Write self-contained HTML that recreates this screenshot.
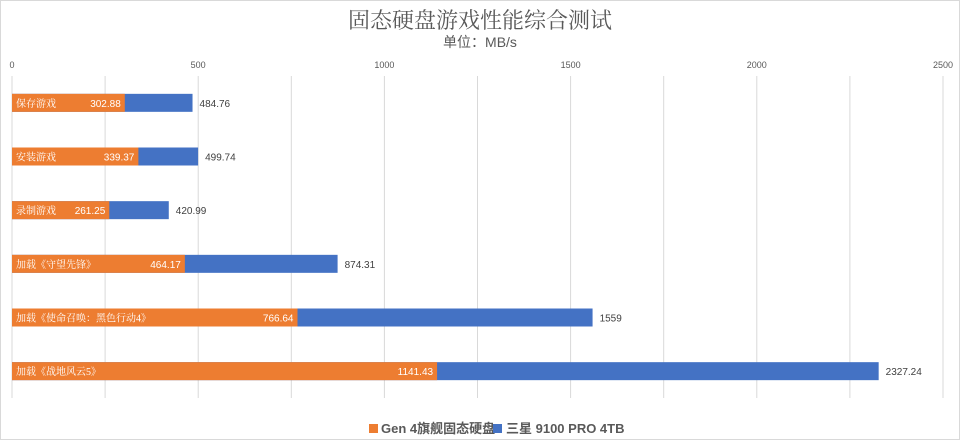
<!DOCTYPE html>
<html><head><meta charset="utf-8"><style>
body{margin:0;background:#fff}
svg{display:block}
</style></head><body>
<svg id="chart" width="960" height="440" xmlns="http://www.w3.org/2000/svg">
<rect x="0.5" y="0.5" width="959" height="439" fill="#fff" stroke="#d9d9d9"/>
<text x="480" y="28" text-anchor="middle" font-family="'Liberation Serif','Noto Serif CJK SC',serif" font-size="22" fill="#595959">固态硬盘游戏性能综合测试</text>
<text x="480" y="47" text-anchor="middle" font-family="'Liberation Sans','Noto Sans CJK SC',sans-serif" font-size="14" fill="#595959">单位：MB/s</text>
<g id="grid"></g><g id="ticks"></g><g id="bars"></g>
<g font-family="'Liberation Sans','Noto Sans CJK SC',sans-serif" font-size="13" font-weight="bold" fill="#595959">
<rect x="369" y="424" width="9" height="9" fill="#ED7D31"/>
<text x="381" y="433">Gen 4旗舰固态硬盘</text>
<rect x="493" y="424" width="9" height="9" fill="#4472C4"/>
<text x="506" y="433">三星 9100 PRO 4TB</text>
</g>
</svg>
<script>
const categories=["保存游戏","安装游戏","录制游戏","加载《守望先锋》","加载《使命召唤：黑色行动4》","加载《战地风云5》"];
const gen4Values=[302.88,339.37,261.25,464.17,766.64,1141.43];
const proValues=[484.76,499.74,420.99,874.31,1559,2327.24];
const proLabels=["484.76","499.74","420.99","874.31","1559","2327.24"];
const tickValues=[0,500,1000,1500,2000,2500];
const gridValues=[0,250,500,750,1000,1250,1500,1750,2000,2250,2500];
const NS="http://www.w3.org/2000/svg";
const x0=12,x1=943,maxV=2500,top0=76,bottom0=398;
function xs(v){return x0+(x1-x0)*v/maxV;}
function ys(i){return top0+(bottom0-top0)*(i+0.5)/categories.length;}
function mk(tag,attrs,parent){const e=document.createElementNS(NS,tag);for(const k in attrs)e.setAttribute(k,attrs[k]);parent.appendChild(e);return e;}
const F="'Liberation Sans','Noto Sans CJK SC',sans-serif";
const grid=document.getElementById('grid');
gridValues.forEach(v=>{const l=mk('line',{x1:xs(v),x2:xs(v),y1:top0,y2:bottom0,stroke:'#d9d9d9','stroke-width':1},grid);

});
const ticks=document.getElementById('ticks');
tickValues.forEach(v=>{const t=mk('text',{x:xs(v),y:68,'text-anchor':'middle','font-family':F,'font-size':9,fill:'#595959'},ticks);t.textContent=v;

});
const bars=document.getElementById('bars');
categories.forEach((c,i)=>{const cy=ys(i),h=18;
const b=mk('rect',{x:xs(0),y:cy-h/2,width:xs(proValues[i])-xs(0),height:h,fill:'#4472C4'},bars);


const o=mk('rect',{x:xs(0),y:cy-h/2,width:xs(gen4Values[i])-xs(0),height:h,fill:'#ED7D31'},bars);


const cl=mk('text',{x:xs(0)+4,y:cy+4,'font-family':"'Liberation Serif','Noto Serif CJK SC',serif",'font-size':10,fill:'#fff'},bars);cl.textContent=c;


const gl=mk('text',{x:xs(gen4Values[i])-4,y:cy+4,'text-anchor':'end','font-family':F,'font-size':10,fill:'#fff'},bars);gl.textContent=gen4Values[i].toFixed(2);


const pl=mk('text',{x:xs(proValues[i])+7,y:cy+4,'font-family':F,'font-size':10,fill:'#404040'},bars);pl.textContent=proLabels[i];


});
</script>
</body></html>
